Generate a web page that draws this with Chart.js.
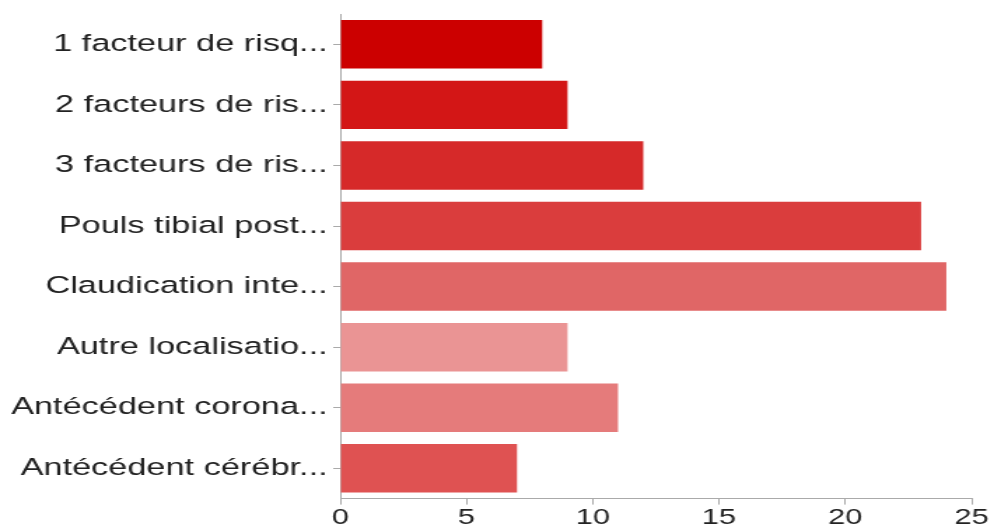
<!DOCTYPE html>
<html>
<head>
<meta charset="utf-8">
<script src="https://cdn.jsdelivr.net/npm/chart.js@4"></script>
<style>
    html, body { margin: 0; padding: 0; background: #fff; overflow: hidden; }
    #chart { display: block; }
</style>
</head>
<body>
<canvas id="chart" width="710" height="531" style="width: 994px; height: 531px;"></canvas>
<script>
// Chart data
const categories = [
    '1 facteur de risq...',
    '2 facteurs de ris...',
    '3 facteurs de ris...',
    'Pouls tibial post...',
    'Claudication inte...',
    'Autre localisatio...',
    'Antécédent corona...',
    'Antécédent cérébr...'
];
const counts = [8, 9, 12, 23, 24, 9, 11, 7];
const barColors = ['#cc0000', '#d31616', '#d62929', '#da3d3d', '#e06666', '#ea9494', '#e57b7b', '#df5252'];
const xTicks = [0, 5, 10, 15, 20, 25];

document.addEventListener('DOMContentLoaded', function() {
    const canvas = document.getElementById('chart');
    const ctx = canvas.getContext('2d');
    new Chart(ctx, {
        type: 'bar',
        data: {
            labels: categories,
            datasets: [{
                data: counts,
                backgroundColor: barColors,
                borderWidth: 0,
                categoryPercentage: 0.8,
                barPercentage: 1.0
            }]
        },
        options: {
            indexAxis: 'y',
            responsive: false,
            animation: false,
            layout: { padding: { top: 14, right: 16, bottom: 0, left: 0 } },
            plugins: {
                legend: { display: false },
                tooltip: { enabled: false }
            },
            scales: {
                x: {
                    min: 0,
                    max: 25,
                    afterBuildTicks: function(scale) {
                        scale.ticks = xTicks.map(v => ({ value: v }));
                    },
                    afterFit: function(scale) {
                        scale.paddingLeft = 0;
                        scale.paddingRight = 0;
                    },
                    grid: { drawOnChartArea: false, tickLength: 6, color: '#aaaaaa' },
                    border: { color: '#aaaaaa', width: 1 },
                    ticks: {
                        padding: 0,
                        color: '#222222',
                        font: { family: 'Liberation Sans, Arial, sans-serif', size: 22 }
                    }
                },
                y: {
                    afterFit: function(scale) {
                        scale.width = 243;
                        scale.paddingTop = 0;
                        scale.paddingBottom = 0;
                    },
                    grid: { drawOnChartArea: false, offset: false, tickLength: 5, color: '#aaaaaa' },
                    border: { color: '#aaaaaa', width: 1 },
                    ticks: {
                        padding: 4,
                        color: '#222222',
                        font: { family: 'Liberation Sans, Arial, sans-serif', size: 24.5 }
                    }
                }
            }
        }
    });
    // keep the stretched look of the original picture
    canvas.style.width = '994px';
    canvas.style.height = '531px';
});
</script>
</body>
</html>
